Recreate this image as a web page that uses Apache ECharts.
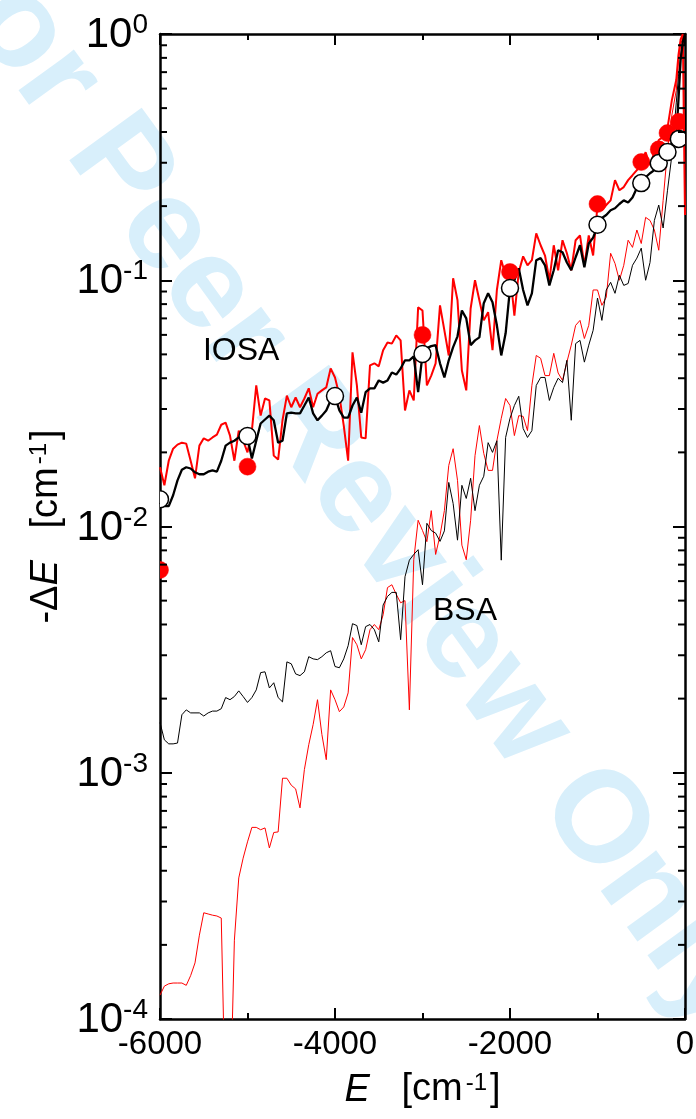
<!DOCTYPE html>
<html><head><meta charset="utf-8">
<script src="https://cdn.jsdelivr.net/npm/echarts@6/dist/echarts.min.js"></script>
<style>html,body{margin:0;padding:0;background:#fff}#c{width:696px;height:1119px}</style>
</head><body><div id="c"></div>
<script>
const FONT = '"Liberation Sans", Arial, Helvetica, sans-serif';

const energies = [-6000,-5950,-5900,-5850,-5800,-5750,-5700,-5650,-5600,-5550,-5500,-5450,-5400,-5350,-5300,-5250,-5200,-5150,-5100,-5050,
-5000,-4950,-4900,-4850,-4800,-4750,-4700,-4650,-4600,-4550,-4500,-4450,-4400,-4350,-4300,-4250,-4200,-4150,-4100,-4050,
-4000,-3950,-3900,-3850,-3800,-3750,-3700,-3650,-3600,-3550,-3500,-3450,-3400,-3350,-3300,-3250,-3200,-3150,-3100,-3050,
-3000,-2950,-2900,-2850,-2800,-2750,-2700,-2650,-2600,-2550,-2500,-2450,-2400,-2350,-2300,-2250,-2200,-2150,-2100,-2050,
-2000,-1950,-1900,-1850,-1800,-1750,-1700,-1650,-1600,-1550,-1500,-1450,-1400,-1350,-1300,-1250,-1200,-1150,-1100,-1050,
-1000,-950,-900,-850,-800,-750,-700,-650,-600,-550,-500,-450,-400,-350,-300,-250,-200,-150,-100,-75,-50,-25,0];

const iosaBlack = [0.0125,0.0121,0.0121,0.0134,0.0154,0.0170,0.0174,0.0172,0.0166,0.0163,
0.0163,0.0167,0.0169,0.0167,0.0185,0.0213,0.0219,0.0223,0.0230,0.0236,
0.0230,0.0189,0.0223,0.0262,0.0272,0.0282,0.0270,0.0219,0.0223,0.0288,
0.0290,0.0288,0.0288,0.0310,0.0334,0.0288,0.0270,0.0282,0.0296,0.0325,
0.0338,0.0296,0.0277,0.0277,0.0310,0.0334,0.0290,0.0351,0.0364,0.0364,
0.0392,0.0384,0.0392,0.0422,0.0414,0.0438,0.0473,0.0473,0.0491,0.0351,
0.0500,0.0530,0.0540,0.0545,0.0460,0.0403,0.0473,0.0535,0.0592,0.0754,
0.0700,0.0545,0.0570,0.0586,0.0807,0.0885,0.0814,0.0656,0.0495,0.0609,
0.0926,0.1000,0.1118,0.0913,0.0791,0.0885,0.1206,0.1230,0.1150,0.0953,
0.1098,0.1324,0.1300,0.1180,0.1098,0.1240,0.1387,0.1130,0.1410,0.1490,
0.166,0.179,0.184,0.1925,0.196,0.204,0.211,0.207,0.217,0.237,
0.248,0.262,0.272,0.280,0.299,0.307,0.331,0.361,0.382,
0.539,0.783,0.93,1.0];

const iosaRed = [0.0174,0.0147,0.0185,0.0207,0.0215,0.0219,0.0217,0.0185,0.0157,0.0213,
0.0228,0.0223,0.0230,0.0236,0.0259,0.0264,0.0234,0.0185,0.0245,0.0223,
0.0200,0.0245,0.0374,0.0282,0.0331,0.0325,0.0194,0.0187,0.0270,0.0340,
0.0305,0.0334,0.0305,0.0331,0.0364,0.0305,0.0346,0.0357,0.0367,0.0438,
0.0403,0.0340,0.0257,0.0185,0.0510,0.0374,0.0230,0.0228,0.0451,0.0460,
0.0447,0.0520,0.0559,0.0553,0.0597,0.0570,0.0296,0.0357,0.0325,0.0776,
0.0754,0.0374,0.0410,0.0460,0.0791,0.0626,0.0495,0.1019,0.0829,0.0430,
0.0357,0.0768,0.1000,0.0829,0.0687,0.0742,0.0520,0.0913,0.1206,0.1047,
0.108,0.0718,0.108,0.125,0.115,0.1206,0.155,0.1387,0.126,0.100,
0.1387,0.1098,0.1454,0.1287,0.1098,0.1454,0.152,0.115,0.152,0.126,
0.202,0.1925,0.202,0.211,0.255,0.232,0.239,0.255,0.267,0.280,
0.299,0.331,0.293,0.331,0.371,0.382,0.416,0.539,0.650,
0.82,0.95,1.0,0.184];

const bsaBlack = [0.0016,0.00136,0.00131,0.00131,0.00132,0.00172,0.0018,0.00175,0.00175,0.00175,
0.0017,0.00175,0.00178,0.00178,0.00182,0.00202,0.00198,0.00204,0.00215,0.00204,
0.00193,0.00202,0.00217,0.00255,0.00257,0.00221,0.00232,0.00202,0.00194,0.00282,
0.00277,0.00252,0.00248,0.00257,0.00296,0.0029,0.00288,0.00296,0.00307,0.00313,
0.0027,0.00267,0.0029,0.00328,0.00403,0.00396,0.00331,0.00392,0.004,0.00381,
0.0034,0.0048,0.0052,0.0054,0.0054,0.00347,0.00625,0.0073,0.0077,0.00805,
0.0058,0.0103,0.00963,0.0094,0.0087,0.0096,0.0151,0.0124,0.0088,0.0147,
0.0130,0.0157,0.0116,0.0147,0.016,0.0219,0.020,0.0223,0.0073,0.023,
0.0275,0.031,0.0338,0.025,0.023,0.0245,0.0374,0.0403,0.0403,0.0325,
0.0367,0.040,0.0384,0.0473,0.027,0.0553,0.057,0.0465,0.0545,0.0626,
0.0847,0.0687,0.0913,0.0981,0.0885,0.1047,0.0953,0.097,0.115,0.123,
0.135,0.1,0.118,0.175,0.202,0.163,0.232,0.322,0.525,
0.67,0.82,0.93,1.0];

const bsaRed = [1.25e-4,1.36e-4,1.39e-4,1.4e-4,1.4e-4,1.4e-4,1.37e-4,1.5e-4,1.69e-4,2.19e-4,
2.7e-4,2.67e-4,2.64e-4,2.62e-4,2.57e-4,4e-5,4e-5,2.09e-4,3.74e-4,4.5e-4,
5.24e-4,6.0e-4,6.0e-4,5.87e-4,5.97e-4,4.95e-4,5.72e-4,5.75e-4,9.5e-4,9.5e-4,
8.9e-4,8.6e-4,7.2e-4,1.03e-3,1.3e-3,1.57e-3,1.98e-3,1.43e-3,1.13e-3,2.17e-3,
1.98e-3,1.77e-3,1.85e-3,2.11e-3,3.54e-3,3.31e-3,2.9e-3,3.16e-3,3.81e-3,4.0e-3,
3.81e-3,4.38e-3,5.65e-3,5.8e-3,5.3e-3,4.9e-3,5.0e-3,1.8e-3,7.33e-3,0.0106,
9.63e-3,8.68e-3,0.0116,7.7e-3,9.2e-3,0.0116,0.0177,0.0207,0.0154,8.4e-3,
7.33e-3,0.0106,0.0194,0.0257,0.0198,0.0169,0.0169,0.0223,0.0275,0.0331,
0.031,0.0234,0.0282,0.028,0.0245,0.0374,0.0495,0.0482,0.041,0.041,
0.0505,0.042,0.0392,0.0465,0.0545,0.0656,0.0687,0.058,0.0656,0.0913,
0.0913,0.0791,0.0853,0.1287,0.117,0.1,0.115,0.1454,0.136,0.16,
0.141,0.18,0.175,0.16,0.1324,0.211,0.3375,0.469,0.59,
0.77,0.9,0.98,1.0];

const openE = [-6000,-5000,-4000,-3000,-2000,-1000,-500,-300,-200,-70];
const openV = [0.0129,0.0233,0.0339,0.0502,0.093,0.168,0.248,0.299,0.332,0.375];
const redE = [-6000,-5000,-3000,-2000,-1000,-500,-300,-200,-70];
const redV = [0.00666,0.0175,0.060,0.108,0.204,0.302,0.34,0.396,0.44];

const minorTickValues = [2e-4,3e-4,4e-4,5e-4,6e-4,7e-4,8e-4,9e-4,
2e-3,3e-3,4e-3,5e-3,6e-3,7e-3,8e-3,9e-3,
0.02,0.03,0.04,0.05,0.06,0.07,0.08,0.09,
0.2,0.3,0.4,0.5,0.6,0.7,0.8,0.9];

const xTicks = {min:-6000, max:0, interval:2000};
const annotations = [{text:'IOSA', E:-5509, v:0.0514}, {text:'BSA', E:-2880, v:0.00452}];

const X_MIN = xTicks.min, X_MAX = xTicks.max;
function pairs(xs, ys){ return xs.map((x,i)=>[x, ys[i]]); }

const chart = echarts.init(document.getElementById('c'), null, {renderer:'canvas'});

const axisLineStyle = {color:'#000', width:2.5};
const baseX = {
  type:'value', min:X_MIN, max:X_MAX, interval:xTicks.interval,
  axisLine:{show:true, onZero:false, lineStyle:axisLineStyle},
  axisTick:{show:true, inside:true, length:11, lineStyle:{color:'#000', width:2}},
  minorTick:{show:true, splitNumber:2, length:6, lineStyle:{color:'#000', width:2}},
  splitLine:{show:false}, minorSplitLine:{show:false}
};
const baseY = {
  type:'log', logBase:10, min:1e-4, max:1,
  axisLine:{show:true, onZero:false, lineStyle:axisLineStyle},
  axisTick:{show:true, inside:true, length:12, lineStyle:{color:'#000', width:2}},
  splitLine:{show:false}, minorTick:{show:false}, minorSplitLine:{show:false}
};

function markerItem(fill, stroke, lw){
  return function(params, api){
    const p = api.coord([api.value(0), api.value(1)]);
    const cs = params.coordSys;
    return {type:'circle', shape:{cx:p[0], cy:p[1], r:8.5},
      style:{fill:fill, stroke:stroke, lineWidth:lw},
      clipPath:{type:'rect', shape:{x:cs.x, y:cs.y, width:cs.width, height:cs.height}}};
  };
}

const titleRich = {
  i:{fontStyle:'italic', fontSize:38, fontFamily:FONT, color:'#000'},
  sup:{fontSize:24, fontFamily:FONT, color:'#000', verticalAlign:'top', padding:[0,3,0,3]}
};

const option = {
  animation:false,
  backgroundColor:'#fff',
  grid:{left:160, top:34, right:11, bottom:100, containLabel:false, outerBoundsMode:'none'},
  xAxis:[
    Object.assign({}, baseX, {position:'bottom',
      axisLabel:{show:true, color:'#000', fontSize:33, fontFamily:FONT, margin:9,
        formatter:function(v){ return String(v); }},
      name:'{i|E}   [cm{sup|-1}]', nameLocation:'middle', nameGap:52,
      nameTextStyle:{color:'#000', fontSize:38, fontFamily:FONT, rich:titleRich}}),
    Object.assign({}, baseX, {position:'top', axisLabel:{show:false}})
  ],
  yAxis:[
    Object.assign({}, baseY, {position:'left',
      axisLabel:{show:true, margin:12, color:'#000', fontFamily:FONT,
        formatter:function(v){ return '{b|10}{s|' + Math.round(Math.log10(v)) + '}'; },
        rich:{b:{fontSize:42, fontFamily:FONT, color:'#000', padding:[3,0,0,0]},
              s:{fontSize:28, fontFamily:FONT, color:'#000', verticalAlign:'top'}}},
      name:'-Δ{i|E}   [cm{sup|-1}]', nameLocation:'middle', nameGap:92, nameRotate:90,
      nameTextStyle:{color:'#000', fontSize:38, fontFamily:FONT, rich:titleRich}}),
    Object.assign({}, baseY, {position:'right', axisLabel:{show:false}})
  ],
  graphic:[{type:'text', x:342, y:474, rotation:-0.942, z:-10, silent:true,
    style:{text:'For Peer Review Only', fontSize:130, fontWeight:'bold', fontFamily:FONT,
      fill:'#d8effb', align:'center', verticalAlign:'middle', textAlign:'center', textVerticalAlign:'middle'}}],
  series:[
    {type:'line', name:'BSA red', data:pairs(energies, bsaRed), showSymbol:false, symbol:'none', z:3,
      lineStyle:{color:'#ff0000', width:1}, clip:true},
    {type:'line', name:'BSA black', data:pairs(energies, bsaBlack), showSymbol:false, symbol:'none', z:4,
      lineStyle:{color:'#000', width:1}, clip:true},
    {type:'line', name:'IOSA red', data:pairs(energies, iosaRed), showSymbol:false, symbol:'none', z:5,
      lineStyle:{color:'#ff0000', width:2}, clip:true},
    {type:'line', name:'IOSA black', data:pairs(energies, iosaBlack), showSymbol:false, symbol:'none', z:6,
      lineStyle:{color:'#000', width:2.3}, clip:true},
    {type:'custom', name:'red points', data:pairs(redE, redV), z:7, renderItem:markerItem('#ff0000', '#ff0000', 0.5)},
    {type:'custom', name:'open points', data:pairs(openE, openV), z:8, renderItem:markerItem('#ffffff', '#000', 1.5)},
    {type:'custom', name:'minor ticks', data:minorTickValues.map(v=>[X_MIN, v]), z:9, silent:true,
      renderItem:function(params, api){
        const v = api.value(1);
        const pl = api.coord([X_MIN, v]);
        const pr = api.coord([X_MAX, v]);
        return {type:'group', children:[
          {type:'line', shape:{x1:pl[0], y1:pl[1], x2:pl[0]+7, y2:pl[1]}, style:{stroke:'#000', lineWidth:2}},
          {type:'line', shape:{x1:pr[0]-7, y1:pr[1], x2:pr[0], y2:pr[1]}, style:{stroke:'#000', lineWidth:2}}
        ]};
      }}
  ]
};
chart.setOption(option);

const annGraphics = annotations.map(a => {
  const p = chart.convertToPixel({xAxisIndex:0, yAxisIndex:0}, [a.E, a.v]);
  return {type:'text', x:p[0], y:p[1], z:20, silent:true,
    style:{text:a.text, fontSize:32, fontFamily:FONT, fill:'#000', align:'left', verticalAlign:'middle', textAlign:'left', textVerticalAlign:'middle'}};
});
chart.setOption({graphic: option.graphic.concat(annGraphics)});
</script></body></html>
